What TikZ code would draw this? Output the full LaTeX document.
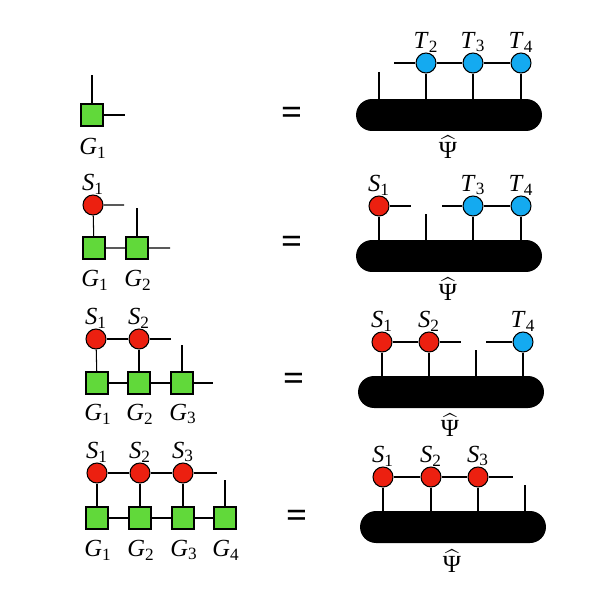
\documentclass[tikz,border=0pt]{standalone}
\usetikzlibrary{positioning, calc}
\usepackage{amsmath,amssymb}
\usepackage{fontspec}
\setmainfont{Liberation Serif}
\usepackage{xcolor}
\definecolor{gsq}{RGB}{97,217,58}
\definecolor{rdot}{RGB}{236,32,16}
\definecolor{bdot}{RGB}{20,170,240}

\newcommand{\tix}[2]{\textit{#1}\textsubscript{#2}}
\newcommand{\psihat}{$\widehat{\text{Ψ}}$}

\tikzset{
  gten/.style={draw, fill=gsq, minimum size=0.44cm, inner sep=0pt, line width=0.6pt},
  sten/.style={draw, circle, fill=rdot, minimum size=0.4cm, inner sep=0pt, line width=0.6pt},
  tten/.style={draw, circle, fill=bdot, minimum size=0.4cm, inner sep=0pt, line width=0.6pt},
  psiblob/.style={fill=black, minimum width=3.72cm, minimum height=0.64cm,
                  rounded corners=0.32cm, inner sep=0pt},
  leg/.style={line width=0.6pt},
  lab/.style={font=\fontsize{14}{16}\selectfont},
  eqsign/.style={font=\fontsize{21}{24}\selectfont\bfseries},
}

\begin{document}
\begin{tikzpicture}[x=0.02cm, y=-0.02cm]
    \useasboundingbox (0,0) rectangle (598,598);

    % ---- row 1 ----
    \node[gten] (g11) at (92,115) {};
    \node[lab] at (93,148) {\tix{G}{1}};
    \coordinate (g11u) at (92,75);
    \coordinate (g11r) at (125,115);
    \draw[leg] (g11) -- (g11u);
    \draw[leg] (g11) -- (g11r);

    \node[eqsign] (eq1) at (292,116) {=};

    \node[psiblob] (psi1) at (449,115) {};
    \node[lab] at (448,147) {\psihat};
    \node[tten, label={[lab,inner sep=0pt]above:\tix{T}{2}}] (t12) at (426,63) {};
    \node[tten, label={[lab,inner sep=0pt]above:\tix{T}{3}}] (t13) at (473,63) {};
    \node[tten, label={[lab,inner sep=0pt]above:\tix{T}{4}}] (t14) at (521,63) {};
    \coordinate (t12l) at (394,63);
    \coordinate (p11) at (379,72);
    \draw[leg] (t12l) -- (t12) -- (t13) -- (t14);
    \draw[leg] (p11) -- (p11 |- psi1.north);
    \foreach \n in {t12,t13,t14}
      \draw[leg] (\n) -- (\n |- psi1.north);

    % ---- row 2 ----
    \node[sten, label={[lab,inner sep=0pt]above:\tix{S}{1}}] (s21) at (93,205) {};
    \node[gten] (g21) at (94,248) {};
    \node[gten] (g22) at (137,248) {};
    \node[lab] at (95,280) {\tix{G}{1}};
    \node[lab] at (138,280) {\tix{G}{2}};
    \coordinate (s21r) at (124,205);
    \coordinate (g22u) at (137,208);
    \coordinate (g22r) at (170,248);
    \draw[leg] (s21r) -- (s21) -- (g21) -- (g22) -- (g22r);
    \draw[leg] (g22) -- (g22u);

    \node[eqsign] (eq2) at (292,245) {=};

    \node[psiblob] (psi2) at (449,256) {};
    \node[lab] at (448,289) {\psihat};
    \node[sten, label={[lab,inner sep=0pt]above:\tix{S}{1}}] (s2a) at (379,206) {};
    \node[tten, label={[lab,inner sep=0pt]above:\tix{T}{3}}] (t23) at (473,206) {};
    \node[tten, label={[lab,inner sep=0pt]above:\tix{T}{4}}] (t24) at (521,206) {};
    \coordinate (s2r) at (411,206);
    \coordinate (t23l) at (442,206);
    \coordinate (p22) at (426,214);
    \draw[leg] (s2a) -- (s2r);
    \draw[leg] (t23l) -- (t23) -- (t24);
    \draw[leg] (p22) -- (p22 |- psi2.north);
    \foreach \n in {s2a,t23,t24}
      \draw[leg] (\n) -- (\n |- psi2.north);

    % ---- row 3 ----
    \node[sten, label={[lab,inner sep=0pt]above:\tix{S}{1}}] (s31) at (96,339) {};
    \node[sten, label={[lab,inner sep=0pt]above:\tix{S}{2}}] (s32) at (139,339) {};
    \node[gten] (g31) at (97,383) {};
    \node[gten] (g32) at (139,383) {};
    \node[gten] (g33) at (182,383) {};
    \node[lab] at (98,414) {\tix{G}{1}};
    \node[lab] at (140,414) {\tix{G}{2}};
    \node[lab] at (183,414) {\tix{G}{3}};
    \coordinate (s32r) at (171,339);
    \coordinate (g33u) at (182,345);
    \coordinate (g33r) at (213,383);
    \draw[leg] (s31) -- (s32) -- (s32r);
    \draw[leg] (s31) -- (g31);
    \draw[leg] (s32) -- (g32);
    \draw[leg] (g31) -- (g32) -- (g33) -- (g33r);
    \draw[leg] (g33) -- (g33u);

    \node[eqsign] (eq3) at (294,382) {=};

    \node[psiblob] (psi3) at (451,392) {};
    \node[lab] at (450,425) {\psihat};
    \node[sten, label={[lab,inner sep=0pt]above:\tix{S}{1}}] (r31) at (382,342) {};
    \node[sten, label={[lab,inner sep=0pt]above:\tix{S}{2}}] (r32) at (429,342) {};
    \node[tten, label={[lab,inner sep=0pt]above:\tix{T}{4}}] (t34) at (523,342) {};
    \coordinate (r32r) at (461,342);
    \coordinate (t34l) at (486,342);
    \coordinate (p33) at (476,350);
    \draw[leg] (r31) -- (r32) -- (r32r);
    \draw[leg] (t34l) -- (t34);
    \draw[leg] (p33) -- (p33 |- psi3.north);
    \foreach \n in {r31,r32,t34}
      \draw[leg] (\n) -- (\n |- psi3.north);

    % ---- row 4 ----
    \node[sten, label={[lab,inner sep=0pt]above:\tix{S}{1}}] (s41) at (97,473) {};
    \node[sten, label={[lab,inner sep=0pt]above:\tix{S}{2}}] (s42) at (140,473) {};
    \node[sten, label={[lab,inner sep=0pt]above:\tix{S}{3}}] (s43) at (183,473) {};
    \node[gten] (g41) at (97,518) {};
    \node[gten] (g42) at (140,518) {};
    \node[gten] (g43) at (183,518) {};
    \node[gten] (g44) at (225,518) {};
    \node[lab] at (98,550) {\tix{G}{1}};
    \node[lab] at (141,550) {\tix{G}{2}};
    \node[lab] at (184,550) {\tix{G}{3}};
    \node[lab] at (226,550) {\tix{G}{4}};
    \coordinate (s43r) at (217,473);
    \coordinate (g44u) at (225,480);
    \draw[leg] (s41) -- (s42) -- (s43) -- (s43r);
    \draw[leg] (s41) -- (g41);
    \draw[leg] (s42) -- (g42);
    \draw[leg] (s43) -- (g43);
    \draw[leg] (g41) -- (g42) -- (g43) -- (g44);
    \draw[leg] (g44) -- (g44u);

    \node[eqsign] (eq4) at (297,519) {=};

    \node[psiblob] (psi4) at (453,527) {};
    \node[lab] at (452,561) {\psihat};
    \node[sten, label={[lab,inner sep=0pt]above:\tix{S}{1}}] (r41) at (383,477) {};
    \node[sten, label={[lab,inner sep=0pt]above:\tix{S}{2}}] (r42) at (431,477) {};
    \node[sten, label={[lab,inner sep=0pt]above:\tix{S}{3}}] (r43) at (478,477) {};
    \coordinate (r43r) at (513,477);
    \coordinate (p44) at (525,485);
    \draw[leg] (r41) -- (r42) -- (r43) -- (r43r);
    \draw[leg] (p44) -- (p44 |- psi4.north);
    \foreach \n in {r41,r42,r43}
      \draw[leg] (\n) -- (\n |- psi4.north);
\end{tikzpicture}
\end{document}
